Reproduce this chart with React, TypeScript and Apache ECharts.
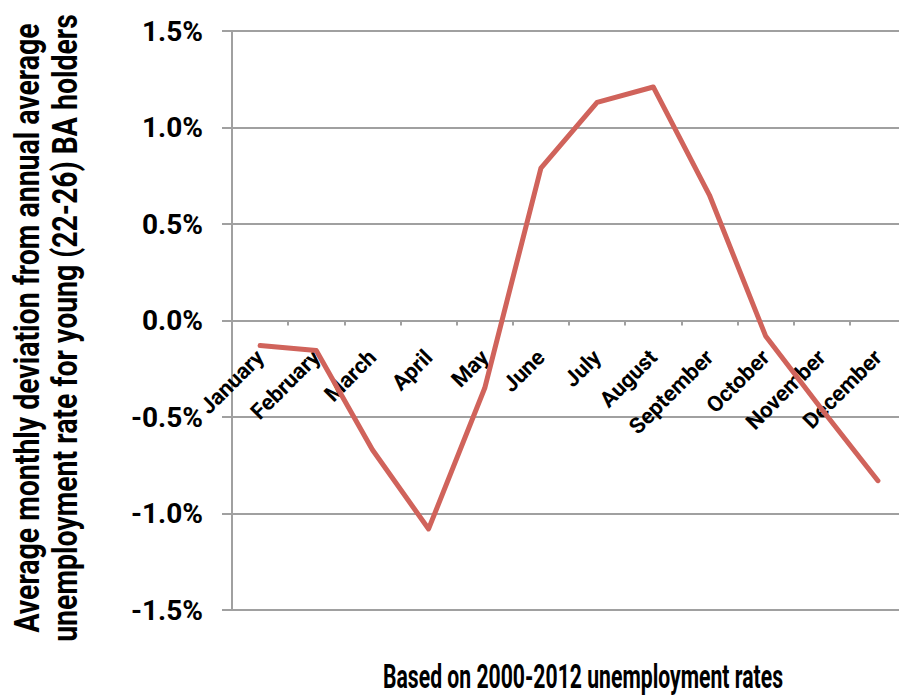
import React, { useEffect, useRef } from "react";
import * as echarts from "echarts";

const months = [
  "January", "February", "March", "April", "May", "June",
  "July", "August", "September", "October", "November", "December",
];
const deviation = [-0.13, -0.155, -0.67, -1.08, -0.35, 0.79, 1.13, 1.21, 0.65, -0.08, -0.46, -0.83];
const yTicks = { min: -1.5, max: 1.5, interval: 0.5 };
const yAxisTitleLines = [
  "Average monthly deviation from annual average",
  "unemployment rate for young (22-26) BA holders",
];
const xAxisTitle = "Based on 2000-2012 unemployment rates";

const FONT = "Roboto, 'DejaVu Sans Condensed', sans-serif";

function measure(text: string, size: number): number {
  const c = document.createElement("canvas").getContext("2d");
  if (!c) return text.length * size * 0.55;
  c.font = `bold ${size}px ${FONT}`;
  return c.measureText(text).width;
}

export default function App() {
  const ref = useRef<HTMLDivElement>(null);
  useEffect(() => {
    if (!ref.current) return;
    const chart = echarts.init(ref.current, undefined, { renderer: "svg" });
    const gridTop = 31;
    const gridBottom = 88;
    const gridHeight = 698 - gridTop - gridBottom;
    const nameSize = 35;
    const nameW = Math.max(measure(yAxisTitleLines[0], nameSize), measure(yAxisTitleLines[1], nameSize));
    const nameScale = 628 / nameW;
    const titleSize = 33;
    const titleScale = 400 / measure(xAxisTitle, titleSize);
    chart.setOption({
      animation: false,
      backgroundColor: "#ffffff",
      grid: {
        left: 232, right: -7, top: gridTop, bottom: gridBottom,
        containLabel: false, outerBoundsMode: "none",
      },
      xAxis: {
        type: "category",
        data: months,
        boundaryGap: true,
        offset: -gridHeight / 2,
        axisLine: { show: true, onZero: false, lineStyle: { color: "#a0a0a0", width: 2 } },
        axisTick: { show: true, inside: false, length: 5, lineStyle: { color: "#a0a0a0", width: 2 } },
        axisLabel: {
          rotate: 45,
          interval: 0,
          margin: 33,
          color: "#000",
          fontFamily: FONT,
          fontWeight: "bold",
          fontSize: 22,
        },
      },
      yAxis: {
        type: "value",
        min: yTicks.min,
        max: yTicks.max,
        interval: yTicks.interval,
        axisLine: { show: true, lineStyle: { color: "#a0a0a0", width: 2 } },
        axisTick: { show: true, inside: false, length: 10, lineStyle: { color: "#a0a0a0", width: 2 } },
        splitLine: { show: true, lineStyle: { color: "#a0a0a0", width: 2 } },
        axisLabel: {
          margin: 29,
          color: "#000",
          fontFamily: FONT,
          fontWeight: "bold",
          fontSize: 28,
          formatter: (v: number) => v.toFixed(1) + "%",
        },
      },
      series: [
        {
          type: "line",
          data: deviation,
          symbol: "none",
          lineStyle: { color: "#d0635b", width: 5, cap: "round", join: "round" },
        },
      ],
      graphic: [
        {
          type: "text",
          x: 46,
          y: 328,
          rotation: Math.PI / 2,
          scaleX: nameScale,
          scaleY: 1,
          style: {
            text: yAxisTitleLines.join("\n"),
            fill: "#000",
            fontFamily: FONT,
            fontWeight: "bold",
            fontSize: nameSize,
            lineHeight: 38,
            align: "center",
            verticalAlign: "middle",
          },
        },
        {
          type: "text",
          x: 583,
          y: 677,
          scaleX: titleScale,
          scaleY: 1,
          style: {
            text: xAxisTitle,
            fill: "#000",
            fontFamily: FONT,
            fontWeight: "bold",
            fontSize: titleSize,
            align: "center",
            verticalAlign: "middle",
          },
        },
      ],
    });
    return () => chart.dispose();
  }, []);
  return <div ref={ref} style={{ width: 899, height: 698, position: "absolute", left: 0, top: 0 }} />;
}
